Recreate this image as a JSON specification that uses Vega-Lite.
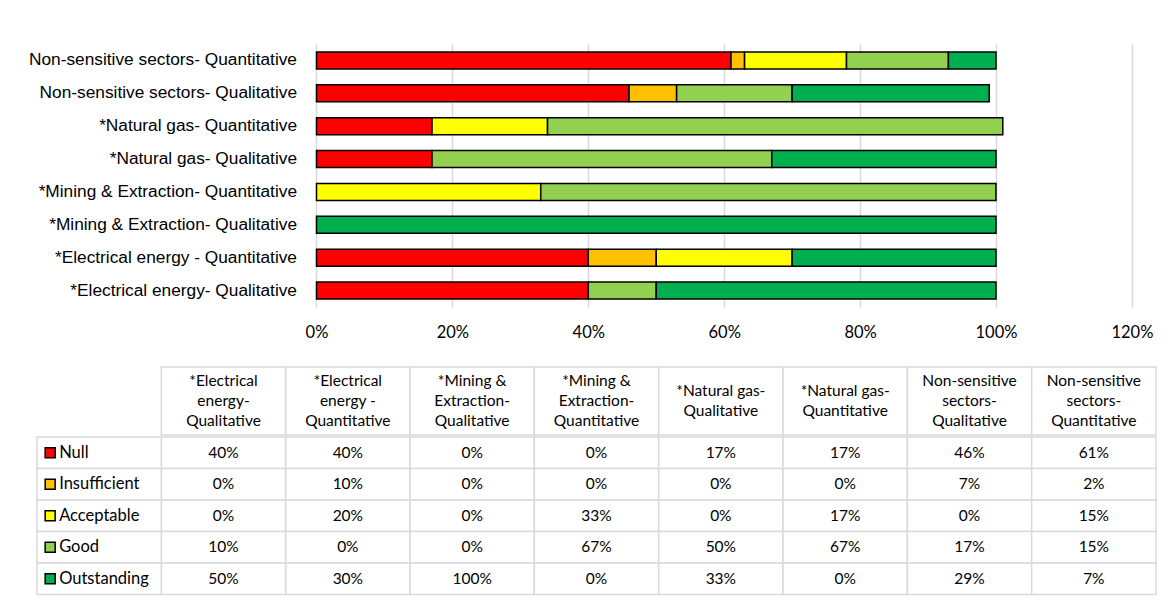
{
  "$schema": "https://vega.github.io/schema/vega-lite/v6.json",
  "padding": {"left": 28, "top": 44, "right": 10, "bottom": 10},
  "background": "white",
  "config": {"view": {"stroke": null}},
  "data": {
    "values": [
      {"bar": "*Electrical energy- Qualitative", "col": "*Electrical\nenergy-\nQualitative", "status": "Null", "value": 0.40},
      {"bar": "*Electrical energy- Qualitative", "col": "*Electrical\nenergy-\nQualitative", "status": "Insufficient", "value": 0.00},
      {"bar": "*Electrical energy- Qualitative", "col": "*Electrical\nenergy-\nQualitative", "status": "Acceptable", "value": 0.00},
      {"bar": "*Electrical energy- Qualitative", "col": "*Electrical\nenergy-\nQualitative", "status": "Good", "value": 0.10},
      {"bar": "*Electrical energy- Qualitative", "col": "*Electrical\nenergy-\nQualitative", "status": "Outstanding", "value": 0.50},
      {"bar": "*Electrical energy - Quantitative", "col": "*Electrical\nenergy -\nQuantitative", "status": "Null", "value": 0.40},
      {"bar": "*Electrical energy - Quantitative", "col": "*Electrical\nenergy -\nQuantitative", "status": "Insufficient", "value": 0.10},
      {"bar": "*Electrical energy - Quantitative", "col": "*Electrical\nenergy -\nQuantitative", "status": "Acceptable", "value": 0.20},
      {"bar": "*Electrical energy - Quantitative", "col": "*Electrical\nenergy -\nQuantitative", "status": "Good", "value": 0.00},
      {"bar": "*Electrical energy - Quantitative", "col": "*Electrical\nenergy -\nQuantitative", "status": "Outstanding", "value": 0.30},
      {"bar": "*Mining & Extraction- Qualitative", "col": "*Mining &\nExtraction-\nQualitative", "status": "Null", "value": 0.00},
      {"bar": "*Mining & Extraction- Qualitative", "col": "*Mining &\nExtraction-\nQualitative", "status": "Insufficient", "value": 0.00},
      {"bar": "*Mining & Extraction- Qualitative", "col": "*Mining &\nExtraction-\nQualitative", "status": "Acceptable", "value": 0.00},
      {"bar": "*Mining & Extraction- Qualitative", "col": "*Mining &\nExtraction-\nQualitative", "status": "Good", "value": 0.00},
      {"bar": "*Mining & Extraction- Qualitative", "col": "*Mining &\nExtraction-\nQualitative", "status": "Outstanding", "value": 1.00},
      {"bar": "*Mining & Extraction- Quantitative", "col": "*Mining &\nExtraction-\nQuantitative", "status": "Null", "value": 0.00},
      {"bar": "*Mining & Extraction- Quantitative", "col": "*Mining &\nExtraction-\nQuantitative", "status": "Insufficient", "value": 0.00},
      {"bar": "*Mining & Extraction- Quantitative", "col": "*Mining &\nExtraction-\nQuantitative", "status": "Acceptable", "value": 0.33},
      {"bar": "*Mining & Extraction- Quantitative", "col": "*Mining &\nExtraction-\nQuantitative", "status": "Good", "value": 0.67},
      {"bar": "*Mining & Extraction- Quantitative", "col": "*Mining &\nExtraction-\nQuantitative", "status": "Outstanding", "value": 0.00},
      {"bar": "*Natural gas- Qualitative", "col": "*Natural gas-\nQualitative", "status": "Null", "value": 0.17},
      {"bar": "*Natural gas- Qualitative", "col": "*Natural gas-\nQualitative", "status": "Insufficient", "value": 0.00},
      {"bar": "*Natural gas- Qualitative", "col": "*Natural gas-\nQualitative", "status": "Acceptable", "value": 0.00},
      {"bar": "*Natural gas- Qualitative", "col": "*Natural gas-\nQualitative", "status": "Good", "value": 0.50},
      {"bar": "*Natural gas- Qualitative", "col": "*Natural gas-\nQualitative", "status": "Outstanding", "value": 0.33},
      {"bar": "*Natural gas- Quantitative", "col": "*Natural gas-\nQuantitative", "status": "Null", "value": 0.17},
      {"bar": "*Natural gas- Quantitative", "col": "*Natural gas-\nQuantitative", "status": "Insufficient", "value": 0.00},
      {"bar": "*Natural gas- Quantitative", "col": "*Natural gas-\nQuantitative", "status": "Acceptable", "value": 0.17},
      {"bar": "*Natural gas- Quantitative", "col": "*Natural gas-\nQuantitative", "status": "Good", "value": 0.67},
      {"bar": "*Natural gas- Quantitative", "col": "*Natural gas-\nQuantitative", "status": "Outstanding", "value": 0.00},
      {"bar": "Non-sensitive sectors- Qualitative", "col": "Non-sensitive\nsectors-\nQualitative", "status": "Null", "value": 0.46},
      {"bar": "Non-sensitive sectors- Qualitative", "col": "Non-sensitive\nsectors-\nQualitative", "status": "Insufficient", "value": 0.07},
      {"bar": "Non-sensitive sectors- Qualitative", "col": "Non-sensitive\nsectors-\nQualitative", "status": "Acceptable", "value": 0.00},
      {"bar": "Non-sensitive sectors- Qualitative", "col": "Non-sensitive\nsectors-\nQualitative", "status": "Good", "value": 0.17},
      {"bar": "Non-sensitive sectors- Qualitative", "col": "Non-sensitive\nsectors-\nQualitative", "status": "Outstanding", "value": 0.29},
      {"bar": "Non-sensitive sectors- Quantitative", "col": "Non-sensitive\nsectors-\nQuantitative", "status": "Null", "value": 0.61},
      {"bar": "Non-sensitive sectors- Quantitative", "col": "Non-sensitive\nsectors-\nQuantitative", "status": "Insufficient", "value": 0.02},
      {"bar": "Non-sensitive sectors- Quantitative", "col": "Non-sensitive\nsectors-\nQuantitative", "status": "Acceptable", "value": 0.15},
      {"bar": "Non-sensitive sectors- Quantitative", "col": "Non-sensitive\nsectors-\nQuantitative", "status": "Good", "value": 0.15},
      {"bar": "Non-sensitive sectors- Quantitative", "col": "Non-sensitive\nsectors-\nQuantitative", "status": "Outstanding", "value": 0.07}
    ]
  },
  "spacing": 25,
  "vconcat": [
    {
      "width": 1119,
      "height": 263,
      "transform": [
        {"filter": "datum.value > 0"},
        {"calculate": "indexof(['Null','Insufficient','Acceptable','Good','Outstanding'], datum.status)", "as": "rank"}
      ],
      "mark": {"type": "bar", "stroke": "#000000", "strokeWidth": 1.5},
      "encoding": {
        "y": {
          "field": "bar", "type": "nominal",
          "scale": {
            "domain": ["Non-sensitive sectors- Quantitative", "Non-sensitive sectors- Qualitative", "*Natural gas- Quantitative", "*Natural gas- Qualitative", "*Mining & Extraction- Quantitative", "*Mining & Extraction- Qualitative", "*Electrical energy - Quantitative", "*Electrical energy- Qualitative"],
            "paddingInner": 0.48, "paddingOuter": 0.24
          },
          "axis": {"title": null, "offset": -279.5, "domain": false, "ticks": false, "tickSize": 0, "labelPadding": 20, "labelFont": "Liberation Sans", "labelFontSize": 17.3, "labelColor": "#000000", "labelLimit": 400}
        },
        "x": {
          "field": "value", "type": "quantitative", "stack": "zero",
          "scale": {"domain": [-0.41133, 1.23547], "nice": false, "zero": false},
          "axis": {"title": null, "values": [0, 0.2, 0.4, 0.6, 0.8, 1, 1.2], "format": ".0%", "grid": true, "gridColor": "#d9d9d9", "gridWidth": 1.5, "domain": false, "ticks": false, "tickSize": 0, "labelPadding": 17, "labelFont": "Lato", "labelFontSize": 16.5, "labelColor": "#000000"}
        },
        "order": {"field": "rank", "type": "quantitative"},
        "color": {
          "field": "status", "type": "nominal",
          "scale": {"domain": ["Null", "Insufficient", "Acceptable", "Good", "Outstanding"], "range": ["#FF0000", "#FFC000", "#FFFF00", "#92D050", "#00B050"]},
          "legend": null
        }
      }
    },
    {
      "spacing": 0,
      "vconcat": [
        {
          "width": 1119,
          "height": 68,
          "transform": [{"aggregate": [{"op": "count", "as": "n"}], "groupby": ["col"]}],
          "encoding": {
            "x": {
              "field": "col", "type": "nominal",
              "scale": {"domain": ["Level", "*Electrical\nenergy-\nQualitative", "*Electrical\nenergy -\nQuantitative", "*Mining &\nExtraction-\nQualitative", "*Mining &\nExtraction-\nQuantitative", "*Natural gas-\nQualitative", "*Natural gas-\nQuantitative", "Non-sensitive\nsectors-\nQualitative", "Non-sensitive\nsectors-\nQuantitative"], "paddingInner": 0, "paddingOuter": 0},
              "axis": null
            }
          },
          "layer": [
            {"mark": {"type": "rect", "fill": "#ffffff", "stroke": "#d9d9d9", "strokeWidth": 1.5}},
            {
              "transform": [{"filter": "indexof(datum.col, '\\n') != lastindexof(datum.col, '\\n')"}],
              "mark": {"type": "text", "lineBreak": "\n", "lineHeight": 20, "dy": -20, "font": "Lato", "fontSize": 15.5, "color": "#000000"},
              "encoding": {"text": {"field": "col"}}
            },
            {
              "transform": [{"filter": "indexof(datum.col, '\\n') == lastindexof(datum.col, '\\n')"}],
              "mark": {"type": "text", "lineBreak": "\n", "lineHeight": 20, "dy": -10, "font": "Lato", "fontSize": 15.5, "color": "#000000"},
              "encoding": {"text": {"field": "col"}}
            }
          ]
        },
        {
          "width": 1119,
          "height": 157.5,
          "encoding": {
            "y": {"field": "status", "type": "nominal", "scale": {"domain": ["Null", "Insufficient", "Acceptable", "Good", "Outstanding"], "paddingInner": 0, "paddingOuter": 0}, "axis": null}
          },
          "layer": [
            {
              "mark": {"type": "rect", "fill": "#ffffff", "stroke": "#d9d9d9", "strokeWidth": 1.5},
              "encoding": {
                "x": {
                  "field": "col", "type": "nominal",
                  "scale": {"domain": ["Level", "*Electrical\nenergy-\nQualitative", "*Electrical\nenergy -\nQuantitative", "*Mining &\nExtraction-\nQualitative", "*Mining &\nExtraction-\nQuantitative", "*Natural gas-\nQualitative", "*Natural gas-\nQuantitative", "Non-sensitive\nsectors-\nQualitative", "Non-sensitive\nsectors-\nQuantitative"], "paddingInner": 0, "paddingOuter": 0},
                  "axis": null
                }
              }
            },
            {
              "mark": {"type": "text", "font": "Lato", "fontSize": 15.5, "color": "#000000"},
              "encoding": {
                "x": {"field": "col", "type": "nominal"},
                "text": {"field": "value", "type": "quantitative", "format": ".0%"}
              }
            },
            {
              "transform": [{"aggregate": [{"op": "count", "as": "n"}], "groupby": ["status"]}],
              "mark": {"type": "rect", "fill": "#ffffff", "stroke": "#d9d9d9", "strokeWidth": 1.5},
              "encoding": {"x": {"datum": "Level", "type": "nominal"}}
            },
            {
              "transform": [{"aggregate": [{"op": "count", "as": "n"}], "groupby": ["status"]}],
              "mark": {"type": "point", "shape": "square", "filled": true, "opacity": 1, "stroke": "#000000", "strokeWidth": 1.5, "size": 100, "xOffset": -49},
              "encoding": {
                "x": {"datum": "Level", "type": "nominal"},
                "color": {"field": "status", "type": "nominal", "legend": null}
              }
            },
            {
              "transform": [{"aggregate": [{"op": "count", "as": "n"}], "groupby": ["status"]}],
              "mark": {"type": "text", "align": "left", "dx": -40, "font": "Lato", "fontSize": 16.5, "color": "#000000"},
              "encoding": {
                "x": {"datum": "Level", "type": "nominal"},
                "text": {"field": "status", "type": "nominal"}
              }
            }
          ]
        }
      ]
    }
  ]
}
